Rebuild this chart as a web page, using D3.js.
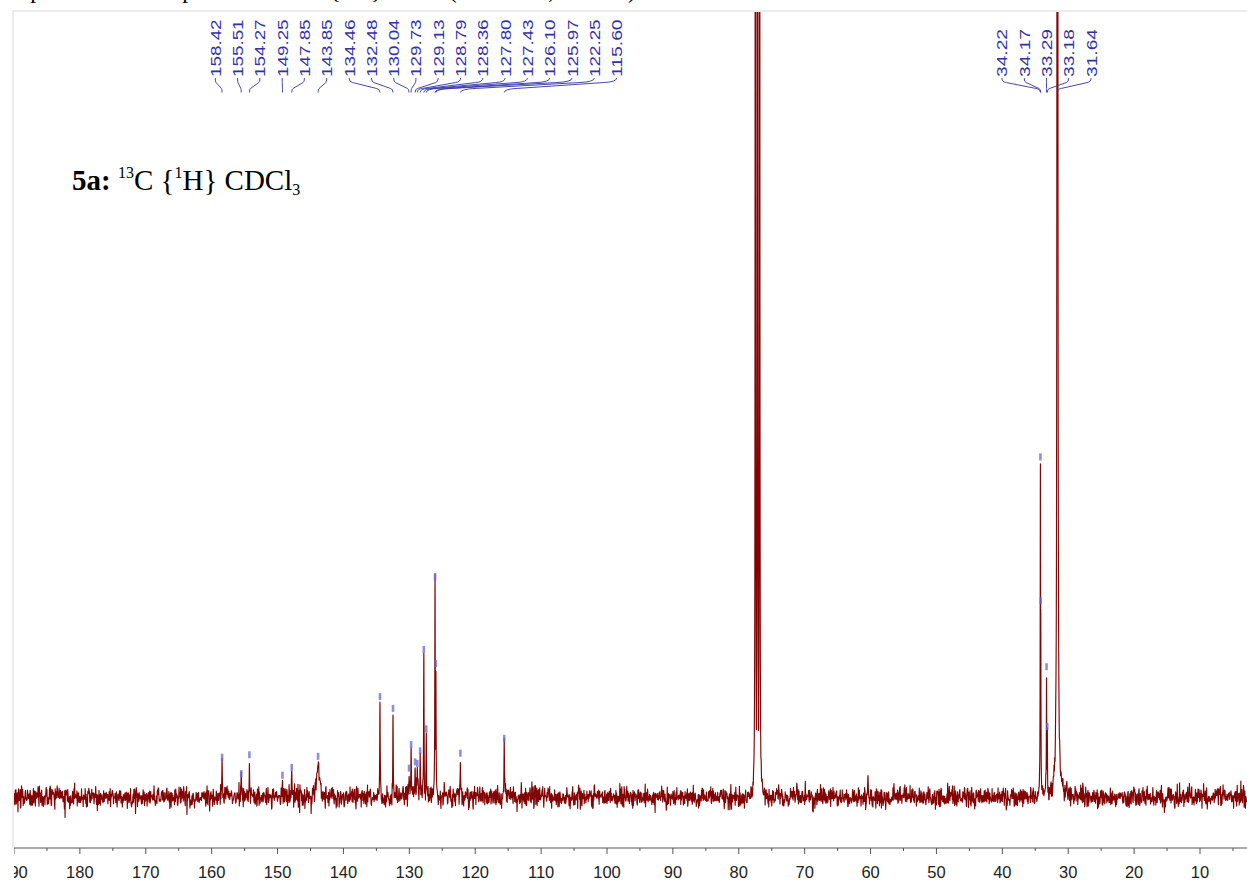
<!DOCTYPE html>
<html>
<head>
<meta charset="utf-8">
<script src="https://cdn.jsdelivr.net/npm/d3@7"></script>
<style>
  html, body { margin: 0; padding: 0; background: #fff; overflow: hidden; }
</style>
</head>
<body>
<svg id="chart" width="1247" height="881"></svg>
<script>
// Picked 13C signals of 5a: shift (ppm) and height (% of full scale)
const peakShifts  = [158.42, 155.51, 154.27, 149.25, 147.85, 143.85, 134.46, 132.48, 130.04, 129.73,
                     129.13, 128.79, 128.36, 127.80, 127.43, 126.10, 125.97, 122.25, 115.60,
                     34.22, 34.17, 33.29, 33.18, 31.64];
const peakHeights = [4.5, 2.4, 4.8, 2.2, 3.2, 4.6, 12.2, 10.7, 3.1, 6.1,
                     3.9, 3.7, 5.3, 18.2, 8.1, 27.4, 16.4, 5.0, 6.9,
                     42.7, 24.4, 16.0, 8.4, 600];
// half width at half height (ppm)
const peakWidths  = [0.04, 0.04, 0.04, 0.05, 0.05, 0.2, 0.04, 0.04, 0.05, 0.05,
                     0.05, 0.05, 0.05, 0.04, 0.04, 0.04, 0.04, 0.04, 0.04,
                     0.035, 0.035, 0.035, 0.035, 0.035];

// Unpicked signals: CDCl3 triplet, minor lines and the aromatic hump
const otherShifts  = [77.48, 77.16, 76.84, 60.4, 30.2, 128.6];
const otherHeights = [400, 420, 400, 2.4, 3.0, 1.0];
const otherWidths  = [0.024, 0.024, 0.024, 0.05, 0.05, 1.6];

const majorTicks = [190, 180, 170, 160, 150, 140, 130, 120, 110, 100, 90, 80, 70, 60, 50, 40, 30, 20, 10];
const minorTicks = [185, 175, 165, 155, 145, 135, 125, 115, 105, 95, 85, 75, 65, 55, 45, 35, 25, 15, 5];

const W = 1247, H = 881;
const plot = { left: 13, top: 11, right: W, bottom: 848 };

const svg = d3.select("#chart");

const x = d3.scaleLinear().domain([190, 10]).range([14, 1200]);
const y = d3.scaleLinear().domain([0, 100]).range([797, plot.top]);

// caption line of the page above, mostly cut off by the top edge
svg.append("text")
  .attr("x", 17).attr("y", -2)
  .attr("font-family", "Liberation Serif, Times New Roman, serif")
  .attr("font-size", 24).attr("fill", "#000")
  .text("Spectrum of compound 5a: 13C {1H} NMR (100 MHz, CDCl3)");

// plot frame
svg.append("path")
  .attr("d", `M${plot.left},${plot.bottom} L${plot.left},${plot.top} L${plot.right},${plot.top}`)
  .attr("fill", "none").attr("stroke", "#ececec").attr("stroke-width", 2);

const defs = svg.append("defs");
defs.append("clipPath").attr("id", "plotClip")
  .append("rect")
  .attr("x", plot.left + 1).attr("y", plot.top + 1)
  .attr("width", plot.right - plot.left).attr("height", plot.bottom - plot.top);
defs.append("clipPath").attr("id", "axisClip")
  .append("rect")
  .attr("x", plot.left + 1).attr("y", plot.bottom - 2)
  .attr("width", plot.right - plot.left).attr("height", H - plot.bottom + 2);

// ---- spectrum trace ----
const lines = peakShifts.map((p, i) => ({ p, h: peakHeights[i], w: peakWidths[i] }))
  .concat(otherShifts.map((p, i) => ({ p, h: otherHeights[i], w: otherWidths[i] })));

function lineShape(ppm) {
  let v = 0;
  for (const l of lines) {
    const d = ppm - l.p;
    const s = l.h * l.w * l.w / (l.w * l.w + d * d);
    if (s > v) v = s;
  }
  return v;
}

// baseline noise texture on a sub-pixel grid (seeded, so the trace is stable)
const ppmHi = x.invert(plot.left), ppmLo = x.invert(plot.right);
const step = 0.05;
const nNoise = Math.ceil((ppmHi - ppmLo) / step) + 1;
const rnd = d3.randomNormal.source(d3.randomLcg(0.4127))(0, 0.64);
const noise = d3.range(nNoise).map(() => rnd());
function noiseAt(ppm) {
  const t = (ppmHi - ppm) / step;
  const i = Math.max(0, Math.min(nNoise - 2, Math.floor(t)));
  const f = t - i;
  return noise[i] * (1 - f) + noise[i + 1] * f;
}

let grid = d3.range(nNoise).map(i => ppmHi - i * step);
for (const l of lines) {
  const span = Math.max(8 * l.w, 0.4);
  const fs = l.w / 5;
  for (let q = l.p - span; q <= l.p + span; q += fs) grid.push(q);
  grid.push(l.p);
}
grid = grid.filter(q => q <= ppmHi && q >= ppmLo).sort((a, b) => b - a);

const trace = grid.map(q => [q, noiseAt(q) + lineShape(q)]);

svg.append("g").attr("clip-path", "url(#plotClip)")
  .append("path")
  .datum(trace)
  .attr("d", d3.line().x(d => x(d[0])).y(d => y(d[1])))
  .attr("fill", "none")
  .attr("stroke", "#820404")
  .attr("stroke-width", 1.15)
  .attr("stroke-linejoin", "round");

// peak-pick markers
svg.append("g").attr("clip-path", "url(#plotClip)")
  .selectAll("rect")
  .data(peakShifts.map((p, i) => ({ p, h: peakHeights[i] })))
  .join("rect")
  .attr("x", d => x(d.p) - 1.3)
  .attr("y", d => y(d.h) - 8)
  .attr("width", 2.6)
  .attr("height", 7)
  .attr("fill", "#6a6ad6")
  .attr("opacity", 0.75);

// ---- shift labels: spread apart at a fixed pitch ----
const pitch = 22.3;
const items = peakShifts.map((p, i) => ({ p, px: x(p) })).sort((a, b) => a.px - b.px);
const clusters = [];
for (const it of items) {
  const last = clusters[clusters.length - 1];
  if (last && it.px < last.start + last.members.length * pitch - 0.5) {
    last.members.push(it);
  } else {
    clusters.push({ members: [it], start: it.px });
  }
  const c = clusters[clusters.length - 1];
  const prev = clusters[clusters.length - 2];
  const mean = d3.mean(c.members, m => m.px);
  c.start = mean - (c.members.length - 1) / 2 * pitch;
  if (prev) c.start = Math.max(c.start, prev.start + prev.members.length * pitch);
}
clusters.forEach(c => c.members.forEach((m, k) => { m.lx = c.start + k * pitch; }));

const labelColor = "#3232a6";
const gLab = svg.append("g");
gLab.selectAll("text")
  .data(items)
  .join("text")
  .attr("transform", d => `translate(${d.lx + 5.5},77) rotate(-90)`)
  .attr("font-family", "Liberation Sans, Arial, sans-serif")
  .attr("font-size", 15)
  .attr("fill", labelColor)
  .attr("textLength", d => d.p.toFixed(2).length * 9.6)
  .attr("lengthAdjust", "spacingAndGlyphs")
  .text(d => d.p.toFixed(2));

gLab.selectAll("path")
  .data(items)
  .join("path")
  .attr("d", d => {
    const a = d.lx, b = d.px, dx = b - a;
    return `M${a},78 Q${a},82 ${a + dx * 0.12},82.6 L${b - dx * 0.12},88.4 Q${b},89 ${b},92.5`;
  })
  .attr("fill", "none")
  .attr("stroke", labelColor)
  .attr("stroke-width", 0.9);

// ---- chemical shift axis ----
const axisY = plot.bottom;
const gAxis = svg.append("g").attr("clip-path", "url(#axisClip)");
gAxis.append("line")
  .attr("x1", plot.left).attr("x2", plot.right)
  .attr("y1", axisY).attr("y2", axisY)
  .attr("stroke", "#555").attr("stroke-width", 1);
gAxis.selectAll("line.major")
  .data(majorTicks).join("line").attr("class", "major")
  .attr("x1", d => x(d)).attr("x2", d => x(d))
  .attr("y1", axisY).attr("y2", axisY + 6)
  .attr("stroke", "#555");
gAxis.selectAll("line.minor")
  .data(minorTicks).join("line").attr("class", "minor")
  .attr("x1", d => x(d)).attr("x2", d => x(d))
  .attr("y1", axisY).attr("y2", axisY + 3)
  .attr("stroke", "#555");
gAxis.selectAll("text")
  .data(majorTicks).join("text")
  .attr("x", d => x(d)).attr("y", 877.5)
  .attr("text-anchor", "middle")
  .attr("font-family", "Liberation Sans, Arial, sans-serif")
  .attr("font-size", 16.5)
  .attr("fill", "#222")
  .text(d => d);

// ---- sample annotation ----
const title = svg.append("text")
  .attr("x", 72).attr("y", 190)
  .attr("font-family", "Liberation Serif, Times New Roman, serif")
  .attr("font-size", 29)
  .attr("fill", "#000");
title.append("tspan").attr("font-weight", "bold").text("5a:");
title.append("tspan").text(" ");
title.append("tspan").attr("font-size", 16).attr("dy", -12).text("13");
title.append("tspan").attr("dy", 12).text("C {");
title.append("tspan").attr("font-size", 16).attr("dy", -12).text("1");
title.append("tspan").attr("dy", 12).text("H} CDCl");
title.append("tspan").attr("font-size", 16).attr("dy", 5).text("3");
</script>
</body>
</html>
